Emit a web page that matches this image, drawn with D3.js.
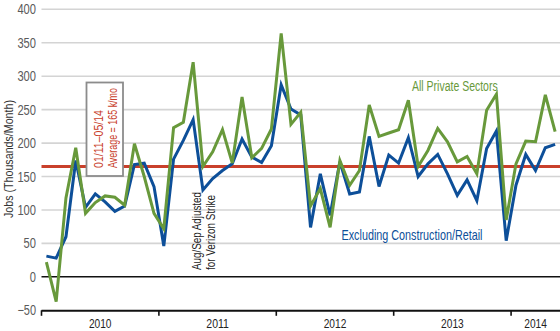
<!DOCTYPE html>
<html><head><meta charset="utf-8">
<script src="https://cdnjs.cloudflare.com/ajax/libs/d3/7.8.5/d3.min.js"></script>
<style>
html,body{margin:0;padding:0;background:#fff;}
svg{display:block;font-family:"Liberation Sans","DejaVu Sans",sans-serif;}
</style></head>
<body><svg id="chart" width="560" height="331"></svg>
<script>
// Months Jan 2010 – May 2014
const monthCount = 53;
const yearLabels = ["2010","2011","2012","2013","2014"];
const yTicks = [-50,0,50,100,150,200,250,300,350,400];
const averageValue = 165;

const allPrivate = [22,-37,118,193,95,111,121,119,107,199,150,95,
  72,223,231,321,165,187,220,170,269,178,192,221,
  364,228,246,106,132,74,174,137,159,257,210,215,
  220,264,165,189,222,202,172,180,154,249,273,85,
  169,203,202,272,217];
const exclConstrRetail = [31,28,60,174,104,124,112,98,106,168,170,135,
  46,176,204,235,130,147,159,169,206,179,171,196,
  287,251,242,74,154,92,172,124,127,210,135,182,
  170,208,150,169,183,154,122,145,114,192,218,54,
  137,183,159,193,198];

const svg = d3.select("#chart");
const pLeft = 41.5, pRight = 560, pTop = 9.3, pBottom = 310.3;

const x = d3.scaleBand().domain(d3.range(monthCount)).range([pLeft, pRight]).padding(0);
const xc = i => x(i) + x.bandwidth()/2;
const y = d3.scaleLinear().domain([-50, 400]).range([pBottom, pTop]);

const grid = "#d4d4d4", green = "#68993b", blue = "#0d4f99", red = "#c9402b";

function fit(sel, len) {
  return sel.attr("textLength", len).attr("lengthAdjust", "spacingAndGlyphs");
}

// gridlines
svg.append("g").selectAll("line").data(yTicks.filter(v => v > 0)).join("line")
  .attr("x1", pLeft).attr("x2", pRight).attr("y1", d => y(d)).attr("y2", d => y(d))
  .attr("stroke", grid).attr("stroke-width", 1.6);

// zero line
svg.append("line").attr("x1", pLeft).attr("x2", pRight).attr("y1", y(0)).attr("y2", y(0))
  .attr("stroke", "#111").attr("stroke-width", 1.5);

// y axis labels
const yAxis = d3.axisLeft(y).tickValues(yTicks).tickSize(0).tickPadding(0).tickFormat(d3.format("d"));
const yg = svg.append("g").attr("transform", `translate(36,0)`).call(yAxis);
yg.select(".domain").remove();
yg.selectAll("text").attr("fill", "#5a5a5a").style("font-size", "14px")
  .style("font-family", "inherit")
  .each(function(d){ fit(d3.select(this), String(d).length * 6.2); });

// y title
fit(svg.append("text").attr("transform", "translate(13,159) rotate(-90)")
  .attr("text-anchor", "middle").attr("fill", "#333").style("font-size", "13px")
  .text("Jobs (Thousands/Month)"), 118);

// average line
svg.append("line").attr("x1", pLeft).attr("x2", pRight)
  .attr("y1", y(averageValue)).attr("y2", y(averageValue))
  .attr("stroke", red).attr("stroke-width", 3.2);

// average box
svg.append("rect").attr("x", 86.5).attr("y", 82.5).attr("width", 36.5).attr("height", 93.5)
  .attr("fill", "#fff").attr("stroke", "#8c8c8c").attr("stroke-width", 1.8);
fit(svg.append("text").attr("transform", "translate(103,168) rotate(-90)")
  .attr("fill", red).style("font-size", "12.5px").text("01/11\u201305/14"), 58);
fit(svg.append("text").attr("transform", "translate(116.5,168) rotate(-90)")
  .attr("fill", red).style("font-size", "12.5px").text("Average = 165 k/mo"), 80);

// x axis baseline & ticks
svg.append("line").attr("x1", pLeft).attr("x2", pRight).attr("y1", pBottom+0.5).attr("y2", pBottom+0.5)
  .attr("stroke", "#111").attr("stroke-width", 2);
const yearStarts = d3.range(0, monthCount, 12);
svg.append("g").selectAll("line").data(yearStarts).join("line")
  .attr("x1", d => x(d)).attr("x2", d => x(d)).attr("y1", pBottom).attr("y2", pBottom+5.5)
  .attr("stroke", "#111").attr("stroke-width", 1.6);
svg.append("g").selectAll("text").data(yearLabels).join("text")
  .attr("x", (d,i) => {
    const s = i*12, e = Math.min(monthCount, s+12);
    return (x(s) + x(e-1) + x.bandwidth())/2;
  })
  .attr("y", 328).attr("text-anchor", "middle").attr("fill", "#222")
  .style("font-size", "13px").text(d => d)
  .attr("textLength", 22.6).attr("lengthAdjust", "spacingAndGlyphs");

// lines
const line = d3.line().x((d,i) => xc(i)).y(d => y(d));
svg.append("path").datum(exclConstrRetail).attr("d", line).attr("fill", "none")
  .attr("stroke", blue).attr("stroke-width", 3).attr("stroke-linejoin", "miter");
svg.append("path").datum(allPrivate).attr("d", line).attr("fill", "none")
  .attr("stroke", green).attr("stroke-width", 3).attr("stroke-linejoin", "miter");

// annotations
fit(svg.append("text").attr("x", 412).attr("y", 90.5).attr("fill", green)
  .style("font-size", "15.5px").text("All Private Sectors"), 85.7);
fit(svg.append("text").attr("x", 341.5).attr("y", 239.5).attr("fill", blue)
  .style("font-size", "15px").text("Excluding Construction/Retail"), 141);
fit(svg.append("text").attr("transform", "translate(200.5,270) rotate(-90)")
  .attr("fill", "#222").style("font-size", "13px").text("Aug/Sep Adjusted"), 78);
fit(svg.append("text").attr("transform", "translate(215,270) rotate(-90)")
  .attr("fill", "#222").style("font-size", "13px").text("for Verizon Strike"), 75);
</script></body></html>
